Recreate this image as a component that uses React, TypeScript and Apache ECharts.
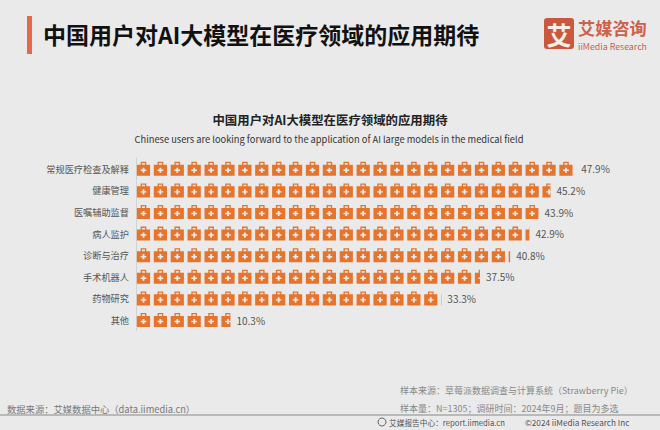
import { useEffect, useRef } from "react";
import * as echarts from "echarts";

const categories = [
  "常规医疗检查及解释",
  "健康管理",
  "医嘱辅助监督",
  "病人监护",
  "诊断与治疗",
  "手术机器人",
  "药物研究",
  "其他",
];
const values = [47.9, 45.2, 43.9, 42.9, 40.8, 37.5, 33.3, 10.3];
const axisMax = 50;

const FONT = '"Noto Sans CJK SC", "Noto Sans", sans-serif';

// 药箱图标: 外框顺时针, 提手内侧和十字逆时针, 这样是镂空的
const KIT =
  "path://M4 4V0.8H10V4H14V16H0V4ZM5.4 4H8.6V2.2H5.4Z" +
  "M6 7.2V9.2H4V10.8H6V12.8H8V10.8H10V9.2H8V7.2Z";

export default function App() {
  const ref = useRef<HTMLDivElement>(null);

  useEffect(() => {
    if (!ref.current) return;
    const chart = echarts.init(ref.current, undefined, { renderer: "svg" });
    chart.setOption({
      animation: false,
      backgroundColor: "#eaeaea",
      textStyle: { fontFamily: FONT },
      grid: { left: 136, top: 158, width: 458.5, height: 172.8 },
      xAxis: { type: "value", min: 0, max: axisMax, show: false },
      yAxis: {
        type: "category",
        inverse: true,
        data: categories,
        axisTick: { show: false },
        axisLine: { lineStyle: { color: "#d2d2d2" } },
        axisLabel: { color: "#555", fontSize: 9.2, margin: 7, fontFamily: FONT },
      },
      series: [
        {
          type: "pictorialBar",
          data: values,
          symbol: KIT,
          symbolRepeat: 27,
          symbolClip: true,
          symbolBoundingData: 49.33,
          symbolSize: [13, 14],
          symbolOffset: [1, 0],
          itemStyle: { color: "#e5742c" },
          z: 3,
        },
        {
          type: "bar",
          data: values,
          barWidth: 14,
          barGap: "-100%",
          itemStyle: { color: "transparent" },
          label: {
            show: true,
            position: "right",
            distance: 6,
            color: "#555",
            fontSize: 10,
            formatter: (p: any) => p.value + "%",
          },
        },
      ],
      graphic: [
        { type: "rect", shape: { x: 27, y: 16, width: 5, height: 38 }, style: { fill: "#e8694a" } },
        { type: "text", x: 43, y: 34, style: { text: "中国用户对AI大模型在医疗领域的应用期待", font: `bold 23px ${FONT}`, fill: "#111", textVerticalAlign: "middle" } },

        { type: "rect", shape: { x: 544, y: 18, width: 30, height: 31, r: 3 }, style: { fill: "#c9583f" } },
        { type: "text", x: 559, y: 34, style: { text: "艾", font: `bold 25px ${FONT}`, fill: "#f4efe9", textAlign: "center", textVerticalAlign: "middle" } },
        { type: "text", x: 578, y: 27, style: { text: "艾媒咨询", font: `bold 17.2px ${FONT}`, fill: "#cf6049", textVerticalAlign: "middle" } },
        { type: "text", x: 578, y: 46, style: { text: "iiMedia Research", font: `8.8px ${FONT}`, fill: "#cf6049", textVerticalAlign: "middle" } },

        { type: "text", x: 330, y: 120, style: { text: "中国用户对AI大模型在医疗领域的应用期待", font: `bold 12.4px ${FONT}`, fill: "#222", textAlign: "center", textVerticalAlign: "middle" } },
        { type: "text", x: 329, y: 139, style: { text: "Chinese users are looking forward to the application of AI large models in the medical field", font: `9.3px ${FONT}`, fill: "#333", textAlign: "center", textVerticalAlign: "middle" } },

        { type: "text", x: 7, y: 409, style: { text: "数据来源：艾媒数据中心（data.iimedia.cn）", font: `9.3px ${FONT}`, fill: "#777", textVerticalAlign: "middle" } },
        { type: "text", x: 400, y: 390, style: { text: "样本来源：草莓派数据调查与计算系统（Strawberry Pie）", font: `9px ${FONT}`, fill: "#888", textVerticalAlign: "middle" } },
        { type: "text", x: 400, y: 408, style: { text: "样本量：N=1305；调研时间：2024年9月；题目为多选", font: `9px ${FONT}`, fill: "#888", textVerticalAlign: "middle" } },
        { type: "line", shape: { x1: 0, y1: 415, x2: 660, y2: 415 }, style: { stroke: "#888", lineWidth: 1 } },
        { type: "circle", shape: { cx: 382, cy: 422, r: 4 }, style: { fill: "none", stroke: "#666", lineWidth: 1 } },
        { type: "text", x: 389, y: 422, style: { text: "艾媒报告中心：report.iimedia.cn", font: `7.7px ${FONT}`, fill: "#555", textVerticalAlign: "middle" } },
        { type: "text", x: 525, y: 422, style: { text: "©2024 iiMedia Research Inc", font: `8.2px ${FONT}`, fill: "#555", textVerticalAlign: "middle" } },
      ],
    });
    return () => chart.dispose();
  }, []);

  return <div ref={ref} style={{ position: "fixed", left: 0, top: 0, width: 660, height: 430 }} />;
}
